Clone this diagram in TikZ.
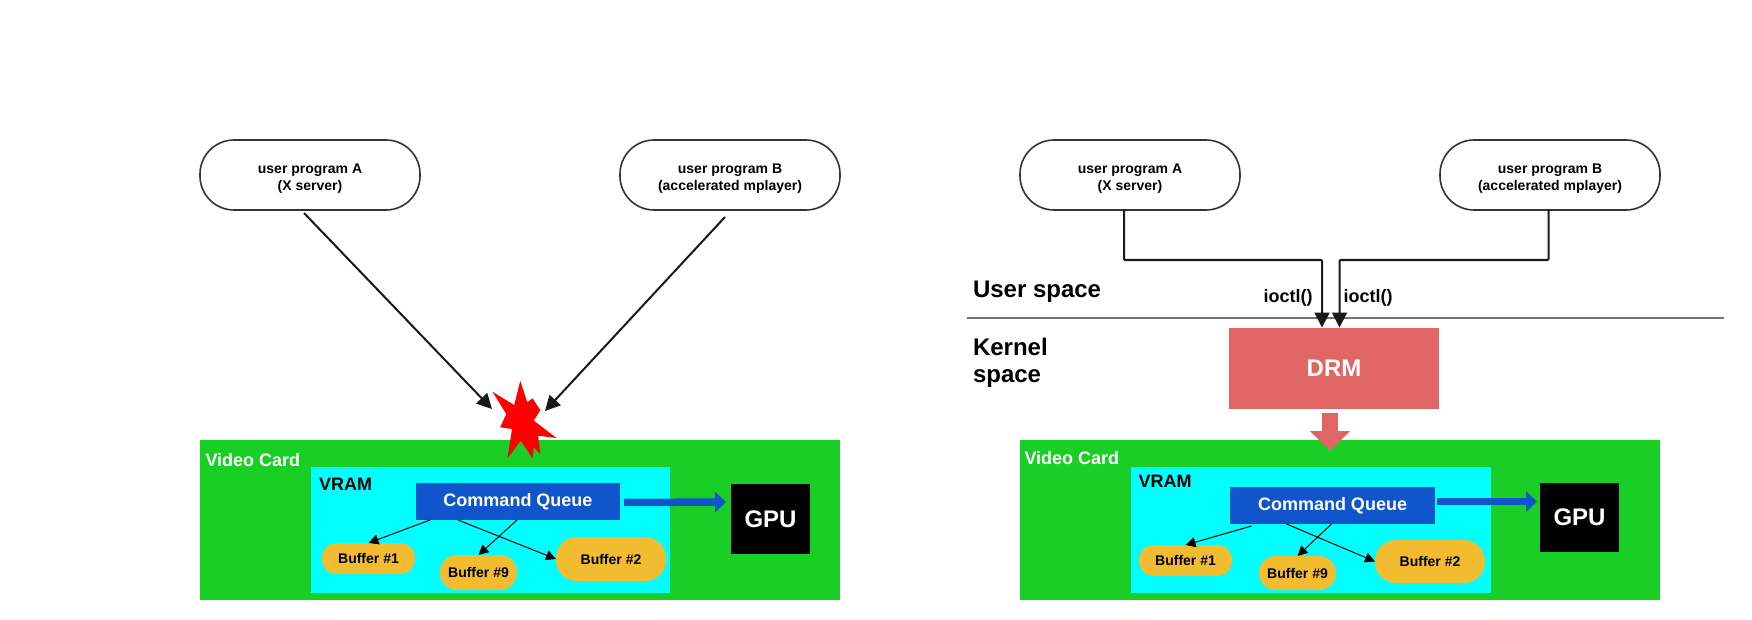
\documentclass[tikz,border=0pt]{standalone}
\usepackage{fontspec}
\setmainfont{Liberation Sans}
\usetikzlibrary{arrows.meta}
\definecolor{cardgreen}{HTML}{19CE25}
\definecolor{vramcyan}{HTML}{00FFFF}
\definecolor{cqblue}{HTML}{1155CC}
\definecolor{bufyellow}{HTML}{F1BC2F}
\definecolor{drmred}{HTML}{E06666}
\definecolor{outline}{HTML}{333333}
\tikzset{
  x=1pt,y=-1pt,
  every node/.style={inner sep=0pt,outer sep=0pt,font=\bfseries},
  pill/.style={draw=outline,line width=1.6pt,fill=white,rounded corners=34pt,align=center,minimum width=220pt,minimum height=70pt,text height=34pt,text depth=3pt,font=\fontsize{14}{17}\selectfont\bfseries},
  card/.style={fill=cardgreen,minimum width=640pt,minimum height=160pt},
  vram/.style={fill=vramcyan,minimum height=126pt},
  queue/.style={fill=cqblue,text=white,minimum height=37pt,font=\fontsize{18}{20}\selectfont\bfseries},
  gpu/.style={fill=black,text=white,minimum width=79pt,font=\fontsize{24}{26}\selectfont\bfseries},
  buffer/.style={fill=bufyellow,font=\fontsize{14}{16}\selectfont\bfseries},
  lbl/.style={anchor=west,font=\fontsize{18}{20}\selectfont\bfseries},
  spacelbl/.style={anchor=west,align=left,font=\fontsize{24}{27}\selectfont\bfseries},
  heavy/.style={line width=2pt,draw=black!90,-{Triangle[length=15pt,width=15pt]}},
  thinarrow/.style={line width=1pt,draw=black,-{Triangle[length=10pt,width=10pt]}},
  blockarrow/.style={line width=7.5pt,draw=cqblue,-{Triangle[length=11pt,width=20pt]}},
}
\begin{document}
\begin{tikzpicture}
\useasboundingbox (0,0) rectangle (1752,620);
% ---------- left ----------
\node[pill] (pa) at (310,175) {user program A\\(X server)};
\node[pill] (pb) at (730,175) {user program B\\(accelerated mplayer)};
\node[card] (card) at (520,520) {};
\node[vram,minimum width=359.5pt] (vr) at (490.5,530) {};
\node[queue,minimum width=204pt] (cq) at (518,501.5) {Command Queue};
\node[gpu,minimum height=70pt] (gp) at (770.5,519) {GPU};
\node[buffer,minimum width=93pt,minimum height=31pt,rounded corners=15pt] (b1) at (368.5,558.5) {Buffer \#1};
\node[buffer,minimum width=77pt,minimum height=35pt,rounded corners=17pt] (b9) at (478.5,572.5) {Buffer \#9};
\node[buffer,minimum width=110pt,minimum height=44pt,rounded corners=21pt] (b2) at (611,559) {Buffer \#2};
\node[lbl,text=white] (vc) at (205.5,460) {Video Card};
\node[lbl] (vl) at (319,484) {VRAM};
\fill[red,shift={(-1.5,-1)}] (521.8,381.7)--(528.7,403.3)--(534,399.3)--(541.8,411)--(535.3,421.7)--(558,439)--(539.6,436.7)--(541.8,455)--(535.3,448.3)--(534,459.3)--(522.2,441.7)--(509,459.3)--(513.5,430)--(501.7,428.3)--(507.8,415)--(493.9,392.7)--(515.7,406)--cycle;
\coordinate (hita) at (492,409);
\coordinate (hitb) at (545,411);
\draw[heavy] ([shift={(-6,3)}]pa.south) -- (hita);
\draw[heavy] ([shift={(-5,7)}]pb.south) -- (hitb);
\draw[thinarrow] ([xshift=-88pt]cq.south) -- (b1.north);
\draw[thinarrow] ([xshift=-1pt]cq.south) -- (b9.north);
\draw[thinarrow] ([xshift=-60pt]cq.south) -- (b2.west);
\draw[blockarrow] ([shift={(4,1)}]cq.east) -- ([shift={(-5,-17)}]gp.west);
% ---------- right ----------
\node[pill] (qa) at (1130,175) {user program A\\(X server)};
\node[pill] (qb) at (1550,175) {user program B\\(accelerated mplayer)};
\node[card] (cardr) at (1340,520) {};
\node[vram,minimum width=360pt] (vrr) at (1311,530) {};
\node[queue,minimum width=205pt] (cqr) at (1332.5,505.5) {Command Queue};
\node[gpu,minimum height=69pt] (gpr) at (1579.5,517.5) {GPU};
\node[buffer,minimum width=93pt,minimum height=31pt,rounded corners=15pt] (c1) at (1185.5,560.5) {Buffer \#1};
\node[buffer,minimum width=77pt,minimum height=34pt,rounded corners=17pt] (c9) at (1297.5,573) {Buffer \#9};
\node[buffer,minimum width=110pt,minimum height=43pt,rounded corners=21pt] (c2) at (1430,561.5) {Buffer \#2};
\node[lbl,text=white] (vcr) at (1024.5,458) {Video Card};
\node[lbl] (vlr) at (1138.5,481.5) {VRAM};
\node[fill=drmred,text=white,minimum width=210pt,minimum height=81pt,font=\fontsize{24}{26}\selectfont\bfseries] (drm) at (1334,368) {DRM};
\node[spacelbl] (us) at (973,291.5) {User space};
\node[spacelbl] (ks) at (973,362.5) {Kernel\\space};
\node[font=\fontsize{18}{20}\selectfont\bfseries] (ioa) at (1288,298) {ioctl()};
\node[font=\fontsize{18}{20}\selectfont\bfseries] (iob) at (1368,298) {ioctl()};
\coordinate (divl) at (967,318);
\coordinate (divr) at (1724,318);
\draw[line width=1.5pt,draw=black!55] (divl) -- (divr);
\draw[heavy,rounded corners=1pt] ([xshift=-6pt]qa.south) |- (1322,260) -- ([xshift=-12pt]drm.north);
\draw[heavy,rounded corners=1pt] ([xshift=-1.5pt]qb.south) |- (1339.5,260) -- ([xshift=5.5pt]drm.north);
\draw[line width=16pt,draw=drmred,-{Triangle[length=20pt,width=39pt]}] ([shift={(-4,4)}]drm.south) -- ([shift={(-10,11)}]cardr.north);
\draw[thinarrow] ([shift={(-81,2)}]cqr.south) -- (c1.north);
\draw[thinarrow] ([xshift=-1pt]cqr.south) -- (c9.north);
\draw[thinarrow] ([xshift=-46pt]cqr.south) -- (c2.west);
\draw[blockarrow] ([shift={(2,-4)}]cqr.east) -- ([shift={(-3,-16)}]gpr.west);
\end{tikzpicture}
\end{document}
